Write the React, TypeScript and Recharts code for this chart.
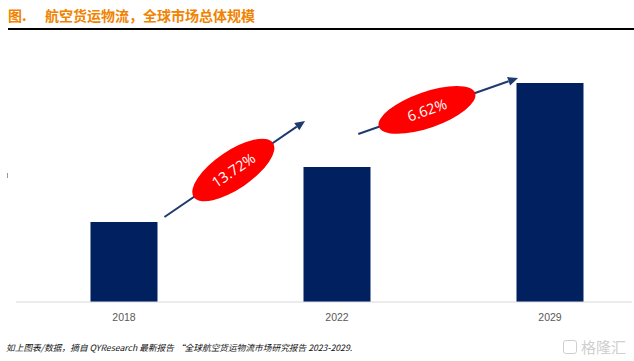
import React from 'react';
import { BarChart, Bar, XAxis, YAxis, ReferenceLine } from 'recharts';

// market size (relative units)
const years = ['2018', '2022', '2029'];
const marketSize = [80, 135, 219];

// growth arrows: start / end in (category index, value), label sits at a fraction along the arrow
const growthLabels = ['13.72%', '6.62%'];
const arrowFrom = [
  [0.19, 85],
  [1.1, 168],
];
const arrowTo = [
  [0.85, 181],
  [1.85, 224],
];
const labelAlong = [0.49, 0.43];

const NAVY = '#002060';
const ARROW = '#1F3A6E';
const ORANGE = '#F08300';

const data = years.map((year, i) => ({ pos: i, year, value: marketSize[i] }));

const GrowthArrow = (props: any) => {
  const { x1, y1, x2, y2, label, t } = props;
  const ang = Math.atan2(y2 - y1, x2 - x1);
  const deg = (ang * 180) / Math.PI;
  const len = 10;
  const half = 4.5;
  const bx = x2 - len * Math.cos(ang);
  const by = y2 - len * Math.sin(ang);
  const px = -Math.sin(ang) * half;
  const py = Math.cos(ang) * half;
  const cx = x1 + (x2 - x1) * t;
  const cy = y1 + (y2 - y1) * t;
  const rx = Math.abs(deg) > 25 ? 48 : 51;
  const ry = Math.abs(deg) > 25 ? 19 : 18;
  return (
    <g>
      <line x1={x1} y1={y1} x2={bx} y2={by} stroke={ARROW} strokeWidth={2} />
      <polygon points={`${x2},${y2} ${bx + px},${by + py} ${bx - px},${by - py}`} fill={ARROW} />
      <g transform={`translate(${cx},${cy}) rotate(${deg})`}>
        <ellipse cx={0} cy={0} rx={rx} ry={ry} fill="#FF0000" />
        <text
          x={0}
          y={0}
          textAnchor="middle"
          dominantBaseline="central"
          fill="#FFFFFF"
          fontSize={14.5}
          fontFamily="'Open Sans', sans-serif"
        >
          {label}
        </text>
      </g>
    </g>
  );
};

export default function App() {
  return (
    <div style={{ position: 'absolute', left: 0, top: 0, width: 634, height: 361, background: '#fff' }}>
      <div
        style={{
          position: 'absolute',
          left: 8,
          top: 6,
          fontFamily: "'Noto Sans CJK SC', sans-serif",
          fontSize: 14,
          fontWeight: 700,
          lineHeight: '18px',
          color: ORANGE,
          whiteSpace: 'nowrap',
        }}
      >
        图.
      </div>
      <div
        style={{
          position: 'absolute',
          left: 45,
          top: 6,
          fontFamily: "'Noto Sans CJK SC', sans-serif",
          fontSize: 14,
          fontWeight: 700,
          lineHeight: '18px',
          color: ORANGE,
          whiteSpace: 'nowrap',
        }}
      >
        航空货运物流，全球市场总体规模
      </div>
      <div style={{ position: 'absolute', left: 8, top: 28, width: 626, height: 1.5, background: '#000' }} />
      <div style={{ position: 'absolute', left: 7, top: 173, width: 1, height: 5, background: '#999' }} />

      <BarChart
        width={634}
        height={361}
        data={data}
        margin={{ top: 62, right: 2, left: 16, bottom: 29 }}
        style={{ position: 'absolute', left: 0, top: 0 }}
      >
        <XAxis
          type="number"
          dataKey="pos"
          domain={[-0.507, 2.385]}
          ticks={[0, 1, 2]}
          interval={0}
          allowDataOverflow
          tickFormatter={(v: number) => years[v] ?? ''}
          tickLine={false}
          tickMargin={6}
          height={30}
          axisLine={{ stroke: '#D9D9D9', strokeWidth: 1 }}
          tick={{ fill: '#595959', fontSize: 10.5, fontFamily: "'Liberation Sans', Arial, sans-serif" }}
        />
        <YAxis hide domain={[0, 240]} />
        <Bar dataKey="value" fill={NAVY} barSize={67} isAnimationActive={false} />
        {growthLabels.map((label, i) => (
          <ReferenceLine
            key={label}
            segment={[
              { x: arrowFrom[i][0], y: arrowFrom[i][1] },
              { x: arrowTo[i][0], y: arrowTo[i][1] },
            ]}
            shape={(p: any) => <GrowthArrow {...p} label={label} t={labelAlong[i]} />}
          />
        ))}
      </BarChart>

      <div
        style={{
          position: 'absolute',
          left: 6,
          top: 341,
          fontFamily: "'Noto Sans CJK SC', sans-serif",
          fontSize: 8.7,
          fontStyle: 'italic',
          lineHeight: '14px',
          color: '#111',
          whiteSpace: 'nowrap',
        }}
      >
        如上图表/数据，摘自 QYResearch 最新报告 “全球航空货运物流市场研究报告 2023-2029.
      </div>
      <div
        style={{
          position: 'absolute',
          left: 563,
          top: 340,
          width: 12,
          height: 12,
          border: '1.5px solid #CFCFCF',
          borderRadius: 3,
        }}
      />
      <div
        style={{
          position: 'absolute',
          left: 581,
          top: 337,
          fontFamily: "'Noto Sans CJK SC', sans-serif",
          fontSize: 15,
          lineHeight: '20px',
          color: '#CFCFCF',
          whiteSpace: 'nowrap',
        }}
      >
        格隆汇
      </div>
    </div>
  );
}
